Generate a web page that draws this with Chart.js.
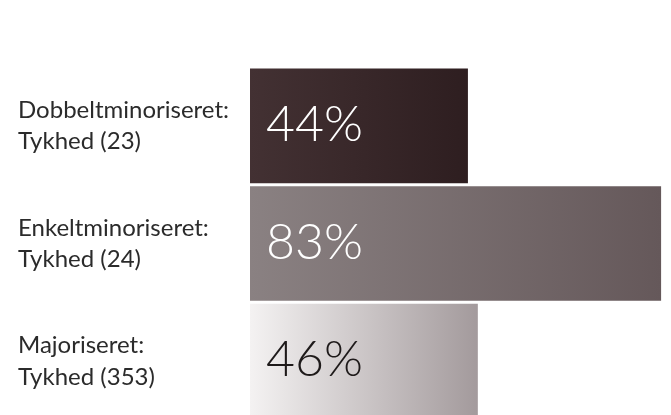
<!DOCTYPE html>
<html>
<head>
<meta charset="utf-8">
<script src="https://cdn.jsdelivr.net/npm/chart.js@4/dist/chart.umd.min.js"></script>
<style>
html,body{margin:0;padding:0;background:#fff;overflow:hidden;}
#wrap{width:671px;height:420px;position:relative;}
</style>
</head>
<body>
<div id="wrap"><canvas id="c"></canvas></div>
<script>
const categories = [
  ["Dobbeltminoriseret:", "Tykhed (23)"],
  ["Enkeltminoriseret:", "Tykhed (24)"],
  ["Majoriseret:", "Tykhed (353)"]
];
const values = [44, 83, 46];
const valueLabels = ["44%", "83%", "46%"];
const gradientStops = [
  ["#433133", "#2e1e20"],
  ["#8a8182", "#65585a"],
  ["#f4f2f2", "#a39a9c"]
];
const valueTextColors = ["#ffffff", "#ffffff", "#1e1a1a"];

function barColor(ctx) {
  const chart = ctx.chart;
  const i = ctx.dataIndex;
  const stops = gradientStops[i];
  if (!chart.chartArea || !chart.scales.x) return stops[1];
  const x = chart.scales.x;
  const x0 = x.getPixelForValue(0);
  const x1 = x.getPixelForValue(values[i]);
  const g = chart.ctx.createLinearGradient(x0, 0, x1, 0);
  g.addColorStop(0, stops[0]);
  g.addColorStop(1, stops[1]);
  return g;
}

const valueLabelPlugin = {
  id: 'valueLabels',
  afterDatasetsDraw(chart) {
    const meta = chart.getDatasetMeta(0);
    const c = chart.ctx;
    c.save();
    c.font = '300 50px Lato, "Open Sans", sans-serif';
    c.textBaseline = 'middle';
    c.textAlign = 'left';
    meta.data.forEach((bar, i) => {
      c.fillStyle = valueTextColors[i];
      c.fillText(valueLabels[i], bar.base + 16, bar.y - 1);
    });
    c.restore();
  }
};

new Chart(document.getElementById('c'), {
  type: 'bar',
  data: {
    labels: categories,
    datasets: [{
      data: values,
      backgroundColor: barColor,
      borderWidth: 0,
      barPercentage: 0.975,
      categoryPercentage: 1
    }]
  },
  options: {
    indexAxis: 'y',
    responsive: true,
    maintainAspectRatio: false,
    animation: false,
    layout: { padding: { top: 67, left: 18, right: 0, bottom: 0 } },
    plugins: { legend: { display: false }, tooltip: { enabled: false } },
    scales: {
      x: {
        display: false,
        min: 0,
        max: 85
      },
      y: {
        grid: { display: false },
        border: { display: false },
        ticks: {
          crossAlign: 'far',
          color: '#2b2b2b',
          padding: 0,
          font: { family: 'Lato, "Noto Sans", sans-serif', size: 24, lineHeight: 1.3 }
        },
        afterFit(scale) {
          scale.width = 232;
          scale.paddingTop = 0;
          scale.paddingBottom = 0;
        }
      }
    }
  },
  plugins: [valueLabelPlugin]
});
</script>
</body>
</html>
